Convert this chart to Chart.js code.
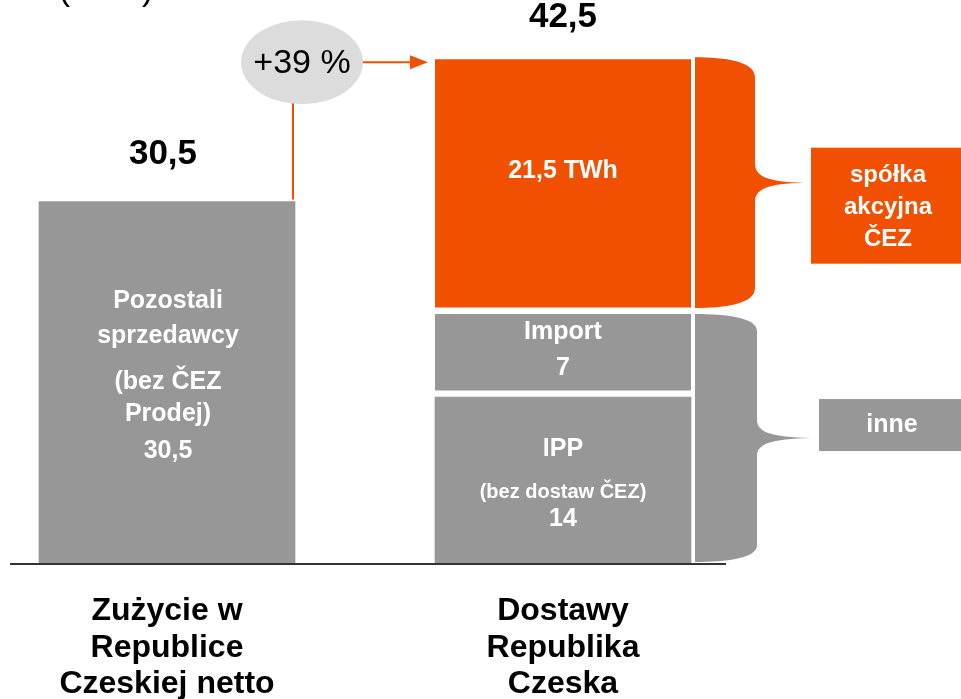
<!DOCTYPE html>
<html><head><meta charset="utf-8">
<script src="https://cdn.jsdelivr.net/npm/chart.js@4/dist/chart.umd.min.js"></script>
<style>html,body{margin:0;padding:0;background:#fff;overflow:hidden}</style>
</head><body>
<canvas id="c" width="961" height="699"></canvas>
<script>
// ---- data ----
const categories = [['Zużycie w', 'Republice', 'Czeskiej netto'], ['Dostawy', 'Republika', 'Czeska']];
const otherSellers = [30.5, null];   // Pozostali sprzedawcy (bez ČEZ Prodej)
const ipp = [null, 14];              // IPP (bez dostaw ČEZ)
const imports = [null, 7];           // Import
const cez = [null, 21.5];            // spółka akcyjna ČEZ
const totalLabels = ['30,5', '42,5'];
const growthLabel = '+39 %';
const unitLabel = '(TWh)';
const leftBarText = ['Pozostali', 'sprzedawcy', '(bez ČEZ', 'Prodej)', '30,5'];
const cezText = ['21,5 TWh'];
const importText = ['Import', '7'];
const ippText = ['IPP', '(bez dostaw ČEZ)', '14'];
const groupCez = ['spółka', 'akcyjna', 'ČEZ'];
const groupOther = ['inne'];

const ORANGE = '#F05000';
const GRAY = '#979797';
const FONT = '"Liberation Sans", Arial, sans-serif';

function brace(ctx, x0, top, bottom, w, tipX, color, curve, neck) {
  const x1 = x0 + w, mid = (top + bottom) / 2;
  ctx.fillStyle = color;
  ctx.beginPath();
  ctx.moveTo(x0, top);
  ctx.bezierCurveTo(x0 + w * 0.5, top, x1, top + curve * 0.2, x1, top + curve);
  ctx.lineTo(x1, mid - neck);
  ctx.bezierCurveTo(x1, mid - neck * 0.25, x1 + (tipX - x1) * 0.3, mid, tipX, mid);
  ctx.bezierCurveTo(x1 + (tipX - x1) * 0.3, mid, x1, mid + neck * 0.25, x1, mid + neck);
  ctx.lineTo(x1, bottom - curve);
  ctx.bezierCurveTo(x1, bottom - curve * 0.2, x0 + w * 0.5, bottom, x0, bottom);
  ctx.closePath();
  ctx.fill();
  return mid;
}

function lines(ctx, arr, x, ys, font, color) {
  ctx.fillStyle = color;
  ctx.textAlign = 'center';
  ctx.textBaseline = 'middle';
  arr.forEach((t, i) => {
    ctx.font = Array.isArray(font) ? font[i] : font;
    ctx.fillText(t, x, ys[i]);
  });
}

const decor = {
  id: 'decor',
  afterDatasetsDraw(chart) {
    const ctx = chart.ctx;
    const y = chart.scales.y;
    const left = chart.getDatasetMeta(0).data[0];
    const ippEl = chart.getDatasetMeta(1).data[1];
    const impEl = chart.getDatasetMeta(2).data[1];
    const cezEl = chart.getDatasetMeta(3).data[1];
    const gap = 7;
    ctx.save();

    // unit label (cropped at top)
    ctx.fillStyle = '#000';
    ctx.font = '34px ' + FONT;
    ctx.textAlign = 'center';
    ctx.textBaseline = 'alphabetic';
    ctx.fillText(unitLabel, 106, 0);

    // baseline
    const y0 = y.getPixelForValue(0);
    ctx.strokeStyle = '#333';
    ctx.lineWidth = 2;
    ctx.beginPath();
    ctx.moveTo(10, y0 + 1);
    ctx.lineTo(726, y0 + 1);
    ctx.stroke();

    // totals above bars
    ctx.fillStyle = '#000';
    ctx.font = 'bold 35px ' + FONT;
    ctx.textAlign = 'center';
    ctx.textBaseline = 'middle';
    ctx.fillText(totalLabels[0], left.x - 4, left.y - 47);
    ctx.fillText(totalLabels[1], cezEl.x, cezEl.y - 42);

    // inner texts
    const W = '#fff';
    const lc = (left.y + left.base) / 2;
    lines(ctx, leftBarText, left.x + 1, [lc - 81.5, lc - 46.5, lc, lc + 31.5, lc + 68.5], 'bold 25px ' + FONT, W);
    const cc = (cezEl.y + cezEl.base - gap) / 2;
    lines(ctx, cezText, cezEl.x, [cc - 12.5], 'bold 25px ' + FONT, W);
    const ic = (impEl.y + impEl.base - gap) / 2;
    lines(ctx, importText, impEl.x, [ic - 20, ic + 16.5], 'bold 25px ' + FONT, W);
    const pc = (ippEl.y + ippEl.base) / 2;
    lines(ctx, ippText, ippEl.x, [pc - 31, pc + 12, pc + 39],
      ['bold 25px ' + FONT, 'bold 20px ' + FONT, 'bold 25px ' + FONT], W);

    // growth ellipse + connectors
    const leftRight = left.x + left.width / 2;
    const rightLeft = cezEl.x - cezEl.width / 2;
    const ex = leftRight + 7, ey = cezEl.y + 3, rx = 61, ry = 42;
    ctx.strokeStyle = ORANGE;
    ctx.lineWidth = 2;
    ctx.beginPath();
    ctx.moveTo(ex - 9, ey + ry - 2);
    ctx.lineTo(ex - 9, left.y - 2);
    ctx.stroke();
    const ax = rightLeft - 7;
    ctx.beginPath();
    ctx.moveTo(ex + rx - 2, ey);
    ctx.lineTo(ax - 14, ey);
    ctx.stroke();
    ctx.fillStyle = ORANGE;
    ctx.beginPath();
    ctx.moveTo(ax, ey);
    ctx.lineTo(ax - 18, ey - 7);
    ctx.lineTo(ax - 18, ey + 7);
    ctx.closePath();
    ctx.fill();
    ctx.fillStyle = '#DCDCDC';
    ctx.beginPath();
    ctx.ellipse(ex, ey, rx, ry, 0, 0, Math.PI * 2);
    ctx.fill();
    ctx.fillStyle = '#000';
    ctx.font = '34px ' + FONT;
    ctx.textAlign = 'center';
    ctx.textBaseline = 'middle';
    ctx.fillText(growthLabel, ex, ey + 1);

    // braces
    const barRight = cezEl.x + cezEl.width / 2;
    const bx = barRight + 4;
    const m1 = brace(ctx, bx, cezEl.y - 2, cezEl.base - gap + 1, 60, bx + 116, ORANGE, 20, 19);
    const m2 = brace(ctx, bx, cezEl.base, ippEl.base - 1, 62, bx + 124, GRAY, 17, 18);

    // group boxes
    ctx.fillStyle = ORANGE;
    ctx.fillRect(bx + 116, m1 - 35, 160, 116);
    lines(ctx, groupCez, bx + 193, [m1 - 7, m1 + 25, m1 + 57], 'bold 24px ' + FONT, W);
    ctx.fillStyle = GRAY;
    ctx.fillRect(bx + 124, m2 - 39, 160, 52);
    lines(ctx, groupOther, bx + 197, [m2 - 13], 'bold 25px ' + FONT, W);

    ctx.restore();
  }
};

const seg = (label, data, color, gapBottom) => ({
  label, data, backgroundColor: color,
  borderColor: '#fff',
  borderWidth: { top: 0, left: 0, right: 0, bottom: gapBottom },
  borderSkipped: false,
  barThickness: 256,
  clip: false
});

new Chart(document.getElementById('c'), {
  type: 'bar',
  data: {
    labels: categories,
    datasets: [
      seg('Pozostali sprzedawcy', otherSellers, GRAY, 0),
      seg('IPP', ipp, GRAY, 0),
      seg('Import', imports, GRAY, 7),
      seg('ČEZ', cez, ORANGE, 7)
    ]
  },
  options: {
    responsive: false,
    animation: false,
    events: [],
    layout: { padding: { left: 167, right: 398, top: 0, bottom: 0 } },
    plugins: { legend: { display: false }, tooltip: { enabled: false } },
    scales: {
      x: {
        stacked: true,
        offset: false,
        grid: { display: false, drawTicks: false },
        border: { display: false },
        afterFit(scale) { scale.height = 136; },
        ticks: {
          autoSkip: false, maxRotation: 0, minRotation: 0, padding: 30,
          color: '#000',
          font: { family: '"Liberation Sans", Arial, sans-serif', size: 32, weight: 'bold', lineHeight: 1.14 }
        }
      },
      y: { stacked: true, display: false, min: 0, max: 47.5 }
    }
  },
  plugins: [decor]
});
</script>
</body></html>
